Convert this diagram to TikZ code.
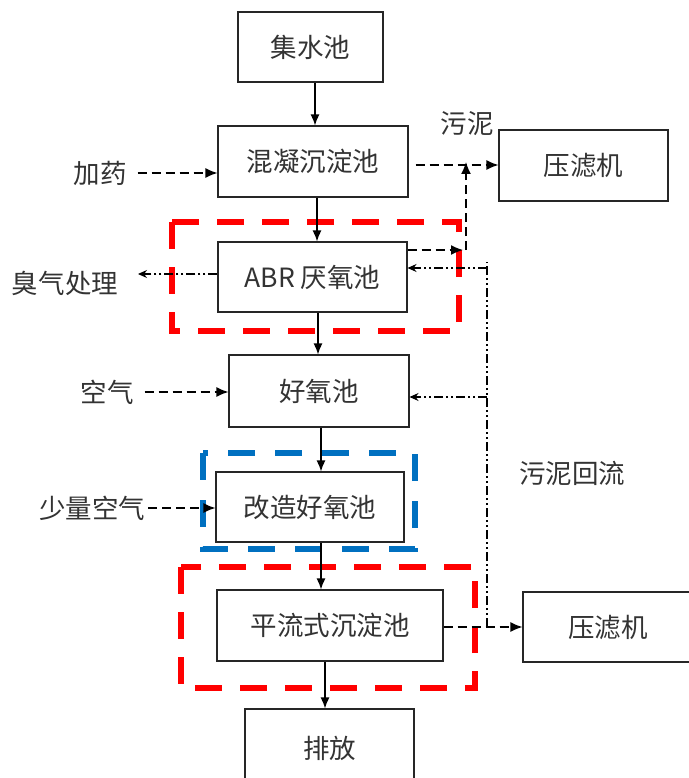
\documentclass[tikz,border=0pt]{standalone}
\usepackage{fontspec}
\setmainfont{Noto Sans CJK SC}
\usetikzlibrary{arrows.meta}
\definecolor{txtgray}{HTML}{333333}
\definecolor{boxblue}{HTML}{0070C0}
\definecolor{boxred}{HTML}{FF0000}
\begin{document}
\begin{tikzpicture}[x=1pt,y=-1pt,
  box/.style={draw=black!85, line width=1.1pt, rectangle, inner sep=0pt,
    font=\fontsize{26.5}{30}\selectfont, text=txtgray},
  lbl/.style={inner sep=0pt, font=\fontsize{26.5}{30}\selectfont, text=txtgray},
  arr/.style={line width=1.4pt, -{Latex[length=11pt,width=9pt]}},
  darr/.style={line width=1.4pt, dash pattern=on 9pt off 5pt, -{Latex[length=12pt,width=10pt]}},
  ddline/.style={line width=1.2pt, dash pattern=on 9pt off 3pt on 2pt off 3pt on 2pt off 3pt},
  ddarr/.style={ddline, -{Stealth[length=9pt,width=8pt]}},
  redbox/.style={draw=boxred, line width=6pt, dash pattern=on 27pt off 18pt},
  bluebox/.style={draw=boxblue, line width=6pt, dash pattern=on 27pt off 20pt}]
\useasboundingbox (0,0) rectangle (688,778);

% boxes
\node[box, minimum width=145pt, minimum height=70pt] (jsc) at (310.5,47) {集水池};
\node[box, minimum width=190pt, minimum height=71pt] (hn) at (313,161.5) {混凝沉淀池};
\node[box, minimum width=169pt, minimum height=71pt] (ylj1) at (583.5,165.5) {压滤机};
\node[box, minimum width=189pt, minimum height=70pt] (abr) at (312.5,277) {ABR 厌氧池};
\node[box, minimum width=180pt, minimum height=72pt] (hy) at (319,391) {好氧池};
\node[box, minimum width=188pt, minimum height=70pt] (gz) at (310,507) {改造好氧池};
\node[box, minimum width=226pt, minimum height=71pt] (pl) at (330,625.5) {平流式沉淀池};
\node[box, minimum width=170pt, minimum height=70pt] (ylj2) at (608,627) {压滤机};
\node[box, minimum width=169pt, minimum height=78pt] (pf) at (329.5,748) {排放};

% labels
\node[lbl] (jy) at (100,173) {加药};
\node[lbl] (cq) at (65,283) {臭气处理};
\node[lbl] (kq) at (107,392) {空气};
\node[lbl] (slkq) at (92,508) {少量空气};
\node[lbl] (wn) at (467,124) {污泥};
\node[lbl] (wnhl) at (572,473) {污泥回流};

% highlight frames
\draw[redbox] (172,222) rectangle (459,331);
\draw[bluebox] (203,453) rectangle (415,549);
\draw[redbox] (181,567) rectangle (475,688);

% main flow
\draw[arr] (jsc.south -| 315,0) -- (hn.north -| 315,0);
\draw[arr] (hn.south -| 317,0) -- (abr.north -| 317,0);
\draw[arr] (abr.south -| 318,0) -- (hy.north -| 318,0);
\draw[arr] (hy.south -| 321,0) -- (gz.north -| 321,0);
\draw[arr] (gz.south -| 321,0) -- (pl.north -| 321,0);
\draw[arr] (pl.south -| 325,0) -- (pf.north -| 325,0);

% inputs
\draw[darr] ([xshift=11pt]jy.east) -- (hn.west |- jy);
\draw[darr] ([xshift=11pt]kq.east) -- (hy.west |- kq);
\draw[darr] ([xshift=3pt]slkq.east) -- (gz.west |- slkq);
\coordinate (cqa) at (138,274);
\draw[ddarr] (abr.west |- cqa) -- (cqa);

% sludge
\coordinate (s1) at (466,165);
\coordinate (s2) at (466,250);
\draw[darr] ([xshift=7pt]hn.east |- s1) -- (ylj1.west |- s1);
\draw[darr] (abr.east |- s2) -- ([xshift=-3pt]s2);
\draw[darr] (s2) -- ([yshift=3pt]s1);
\coordinate (pb) at (487,627);
\draw[darr] (pl.east |- pb) -- (ylj2.west |- pb);

% sludge return
\coordinate (rt) at (487,268);
\coordinate (rm) at (487,397);
\draw[ddline] (pb) -- (487,262);
\draw[ddarr] (rt) -- (abr.east |- rt);
\draw[ddarr] (rm) -- (hy.east |- rm);
\end{tikzpicture}
\end{document}
